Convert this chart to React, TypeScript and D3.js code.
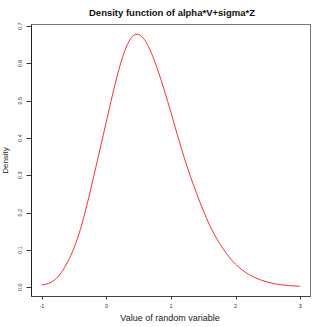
import React from "react";
import * as d3 from "d3";

const xValues = [-1, -0.8, -0.6, -0.4, -0.2, 0, 0.2, 0.4, 0.6, 0.8, 1.0, 1.2, 1.4, 1.6, 1.8, 2.0, 2.2, 2.4, 2.6, 2.8, 3.0];
const densityValues = [0.006, 0.02, 0.068, 0.157, 0.295, 0.445, 0.588, 0.672, 0.661, 0.58, 0.468, 0.35, 0.25, 0.166, 0.105, 0.062, 0.035, 0.019, 0.0095, 0.0048, 0.0027];
const xTicks = [-1, 0, 1, 2, 3];
const yTicks = [0, 0.1, 0.2, 0.3, 0.4, 0.5, 0.6, 0.7];
const title = "Density function of alpha*V+sigma*Z";
const xLabel = "Value of random variable";
const yLabel = "Density";

export default function App() {
  const W = 327, H = 327;
  const left = 31.5, right = 310.5, top = 24.5, bottom = 296.5;
  const x = d3.scaleLinear().domain([-1.16, 3.16]).range([left, right]);
  const y = d3.scaleLinear().domain([-0.0247, 0.7045]).range([bottom, top]);
  const pts: [number, number][] = xValues.map((v, i) => [v, densityValues[i]]);
  const line = d3.line<[number, number]>()
    .x(d => x(d[0]))
    .y(d => y(d[1]))
    .curve(d3.curveNatural);
  const font = "'Liberation Sans', Arial, sans-serif";
  return (
    <svg width={W} height={H} style={{ position: "absolute", left: 0, top: 0, background: "#fff" }}>
      <rect x={0} y={0} width={W} height={H} fill="#fff" />
      <text x={172} y={16} textAnchor="middle" fontFamily={font} fontWeight="bold" fontSize={9.5} fill="#111">{title}</text>
      <rect x={left} y={top} width={right - left} height={bottom - top} fill="none" stroke="#777" strokeWidth={1} />
      <line x1={left} x2={left} y1={top} y2={bottom} stroke="#222" strokeWidth={1} />
      <line x1={left} x2={right} y1={bottom} y2={bottom} stroke="#444" strokeWidth={1} />
      <path d={line(pts) || ""} fill="none" stroke="#ff1a1a" strokeWidth={0.9} />
      {yTicks.map(t => (
        <g key={t}>
          <line x1={left - 5} x2={left} y1={Math.round(y(t)) + 0.5} y2={Math.round(y(t)) + 0.5} stroke="#333" />
          <text transform={`translate(22,${y(t)}) rotate(-90)`} textAnchor="middle" fontFamily={font} fontSize={5.5} fill="#333">{t.toFixed(1)}</text>
        </g>
      ))}
      {xTicks.map(t => (
        <g key={t}>
          <line x1={Math.round(x(t)) + 0.5} x2={Math.round(x(t)) + 0.5} y1={bottom} y2={bottom + 3} stroke="#333" />
          <text x={x(t)} y={307.5} textAnchor="middle" fontFamily={font} fontSize={5.5} fill="#333">{t}</text>
        </g>
      ))}
      <text x={170} y={320.5} textAnchor="middle" fontFamily={font} fontSize={9} fill="#222">{xLabel}</text>
      <text transform={`translate(8,160.5) rotate(-90)`} textAnchor="middle" fontFamily={font} fontSize={8} fill="#222">{yLabel}</text>
    </svg>
  );
}
